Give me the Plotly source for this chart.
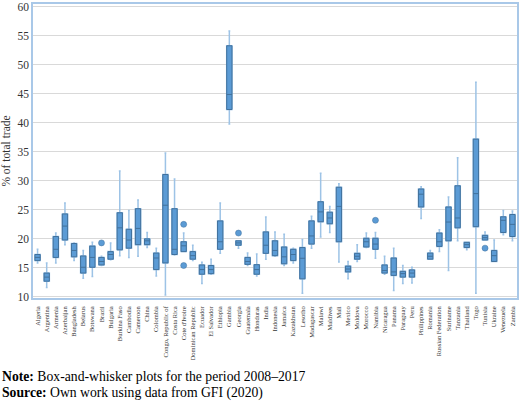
import plotly.graph_objects as go

countries = [
    "Algeria", "Argentina", "Armenia", "Azerbaijan", "Bangladesh", "Belarus",
    "Botswana", "Brazil", "Bulgaria", "Burkina Faso", "Cambodia", "Cameroon",
    "China", "Colombia", "Congo, Republic of", "Costa Rica", "Cote d'Ivoire",
    "Dominican Republic", "Ecuador", "El Salvador", "Ethiopia", "Gambia",
    "Georgia", "Guatemala", "Honduras", "India", "Indonesia", "Jamaica",
    "Kazakhstan", "Lesotho", "Madagascar", "Malawi", "Maldives", "Mali",
    "Mexico", "Moldova", "Morocco", "Namibia", "Nicaragua", "Panama",
    "Paraguay", "Peru", "Philippines", "Romania", "Russian Federation",
    "Suriname", "Tanzania", "Thailand", "Togo", "Tunisia", "Ukraine",
    "Venezuela", "Zambia",
]

low = [15.85, 11.6, 15.85, 19.0, 16.25, 13.2, 13.5, 15.4, 16.4, 17.1, 16.8, 17.0,
       18.5, 13.6, 10.3, 17.2, 17.8, 16.25, 12.3, 13.9, 17.5, 39.8, 18.4, 15.4,
       13.6, 16.5, 17.0, 15.4, 15.85, 10.6, 18.4, 20.3, 21.1, 16.0, 13.1, 16.1,
       18.5, 16.65, 13.9, 11.1, 12.3, 12.4, 23.5, 16.5, 17.8, 14.55, 19.66, 18.1,
       10.6, 19.8, 16.1, 20.7, 19.66]
q1 = [16.25, 12.7, 16.8, 19.8, 16.9, 14.1, 15.1, 15.5, 16.5, 18.1, 18.4, 19.0,
      19.0, 14.7, 15.85, 17.3, 17.8, 16.5, 13.9, 14.0, 18.2, 42.3, 18.9, 15.6,
      13.9, 17.5, 17.1, 15.7, 16.25, 13.1, 19.1, 22.95, 22.6, 19.5, 14.3, 16.5,
      18.6, 18.2, 14.1, 13.7, 13.4, 13.4, 25.5, 16.5, 18.7, 19.66, 21.9, 18.5,
      22.1, 19.8, 16.1, 21.1, 20.4]
median = [16.8, 13.4, 18.2, 22.2, 18.0, 15.1, 16.8, 16.1, 17.3, 21.9, 19.8, 21.8,
          19.66, 16.7, 25.8, 18.2, 18.8, 17.1, 14.7, 14.7, 19.5, 44.9, 19.3, 16.1,
          14.7, 18.9, 18.0, 16.9, 17.3, 16.65, 20.5, 24.65, 23.6, 25.6, 14.8, 17.0,
          19.5, 19.1, 14.55, 14.3, 14.0, 14.1, 27.7, 17.0, 19.5, 22.9, 23.6, 19.0,
          27.8, 20.2, 17.1, 23.2, 22.5]
q3 = [17.3, 14.1, 20.4, 24.3, 19.2, 17.05, 18.75, 16.8, 17.8, 24.5, 21.65, 25.2,
      20.0, 17.55, 31.1, 25.2, 19.5, 17.8, 15.5, 15.4, 23.1, 53.3, 19.66, 16.8,
      15.55, 21.2, 19.66, 18.6, 18.2, 18.5, 23.1, 26.4, 24.6, 28.9, 15.3, 17.5,
      20.1, 20.1, 15.5, 16.7, 14.4, 14.65, 28.6, 17.55, 21.0, 25.5, 29.15, 19.4,
      37.2, 20.6, 18.0, 23.8, 24.2]
high = [18.2, 15.85, 21.0, 26.2, 19.3, 18.0, 19.4, 17.0, 19.3, 31.7, 24.9, 26.7,
        21.1, 18.4, 34.8, 30.3, 21.0, 18.9, 15.95, 16.5, 26.2, 55.85, 19.66, 17.55,
        17.4, 23.75, 21.2, 20.8, 18.4, 19.9, 23.9, 31.3, 25.6, 29.5, 16.1, 19.0,
        21.0, 21.1, 17.0, 18.4, 15.4, 15.1, 29.0, 18.0, 21.55, 27.2, 34.0, 19.4,
        47.0, 21.2, 19.8, 24.9, 24.8]

outlier_country = ["Brazil", "Cote d'Ivoire", "Cote d'Ivoire", "Georgia", "Namibia", "Tunisia"]
outlier_value = [19.3, 22.5, 15.4, 21.0, 23.2, 18.4]

BLUE = "#5b9bd5"
DARK = "#41719c"
LIGHT = "#9dc3e6"
SERIF = "Liberation Serif, Times New Roman, serif"

fig = go.Figure()

# whiskers (lighter line)
fig.add_trace(go.Box(
    x=countries, q1=q1, median=median, q3=q3,
    lowerfence=low, upperfence=high,
    width=0.58, whiskerwidth=0.35,
    fillcolor=BLUE, line=dict(color=LIGHT, width=1.5),
    hoverinfo="skip", showlegend=False,
))
# box body on top (darker outline and median)
fig.add_trace(go.Box(
    x=countries, q1=q1, median=median, q3=q3,
    lowerfence=q1, upperfence=q3,
    width=0.58, whiskerwidth=0,
    fillcolor=BLUE, line=dict(color=DARK, width=1),
    showlegend=False,
))
fig.add_trace(go.Scatter(
    x=outlier_country, y=outlier_value, mode="markers",
    marker=dict(color=BLUE, size=6, line=dict(color=DARK, width=0.5)),
    showlegend=False,
))

fig.update_layout(
    width=520, height=402,
    margin=dict(l=33, r=1, t=2, b=104),
    paper_bgcolor="white", plot_bgcolor="white",
    boxmode="overlay",
    font=dict(family=SERIF, color="#333333"),
    xaxis=dict(
        type="category", categoryorder="array", categoryarray=countries,
        tickangle=-90, tickfont=dict(size=6.5, family=SERIF, color="#333333"),
        ticklabelstandoff=4,
        showline=True, mirror=True, linecolor="#a9c8e8", linewidth=1.5,
        showgrid=False, range=[-0.5, len(countries) - 0.5],
    ),
    yaxis=dict(
        range=[9.8, 60.5], tick0=10, dtick=5, tickfont=dict(size=11.5, family=SERIF),
        ticklabeloverflow="allow",
        showgrid=True, gridcolor="#d9d9d9", gridwidth=1.2, zeroline=False,
        showline=True, mirror=True, linecolor="#a9c8e8", linewidth=1.5,
        title=dict(text="% of total trade", font=dict(size=11.5, family=SERIF), standoff=6),
    ),
    annotations=[
        dict(text="<b>Note:</b> Box-and-whisker plots for the period 2008–2017",
             xref="paper", yref="paper", x=0, y=0, xshift=-33, yshift=-78,
             xanchor="left", yanchor="middle", showarrow=False,
             font=dict(size=13.7, family=SERIF, color="black")),
        dict(text="<b>Source:</b> Own work using data from GFI (2020)",
             xref="paper", yref="paper", x=0, y=0, xshift=-33, yshift=-95,
             xanchor="left", yanchor="middle", showarrow=False,
             font=dict(size=13.7, family=SERIF, color="black")),
    ],
)

fig.write_html(
    "out.html",
    config={"displayModeBar": False},
    post_script="document.body.style.margin='0';document.body.style.overflow='hidden';",
)
